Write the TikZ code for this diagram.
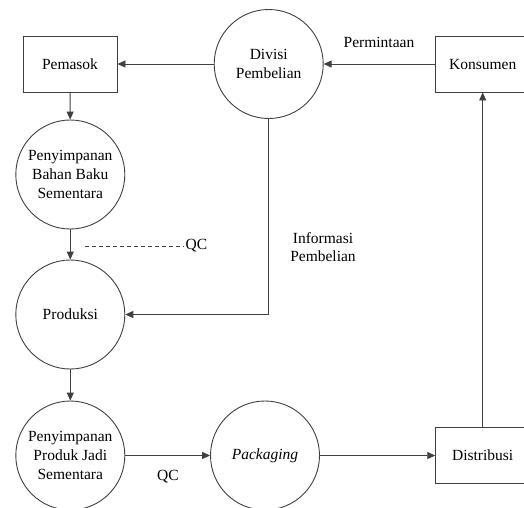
\documentclass[tikz,border=0pt]{standalone}
\usepackage{fontspec}
\setmainfont{Liberation Serif}
\usetikzlibrary{arrows.meta}
\begin{document}
\begin{tikzpicture}[x=1pt,y=-1pt,
  every node/.style={font=\fontsize{15.5}{18.7}\selectfont, align=center},
  proc/.style={draw=black!75, line width=0.9pt, circle, minimum size=109pt, inner sep=0pt},
  ent/.style={draw=black!75, line width=0.9pt, rectangle, minimum width=94pt, minimum height=56pt, inner sep=0pt},
  flow/.style={draw=black!75, line width=0.9pt, -{Triangle[length=8pt,width=7pt]}},
  lbl/.style={inner sep=0pt}]
\clip (0,0) rectangle (524,507);
\fill[white] (0,0) rectangle (524,507);
\node[ent] (pemasok) at (70,64) {Pemasok};
\node[proc] (divisi) at (268.7,64) {Divisi\\Pembelian};
\node[ent] (konsumen) at (482.7,64) {Konsumen};
\node[proc] (bahan) at (70.3,174.5) {Penyimpanan\\Bahan Baku\\Sementara};
\node[proc] (produksi) at (70.3,314.5) {Produksi};
\node[proc] (produk) at (70.3,455.5) {Penyimpanan\\Produk Jadi\\Sementara};
\node[proc] (packaging) at (265,455.5) {\textit{Packaging}};
\node[ent] (distribusi) at (482.7,455.5) {Distribusi};
\node[lbl] (perm) at (379,42) {Permintaan};
\node[lbl] (info) at (323,247) {Informasi\\Pembelian};
\node[lbl] (qctop) at (196.5,246) {QC};
\node[lbl] (qcbot) at (168,477) {QC};
\coordinate (qcs) at (85,246);
\draw[flow] (divisi) -- (pemasok);
\draw[flow] (konsumen) -- (divisi);
\draw[flow] (pemasok) -- (bahan);
\draw[flow] (bahan) -- (produksi);
\draw[flow] (divisi.south) |- (produksi.east);
\draw[flow] (produksi) -- (produk);
\draw[flow] (produk) -- (packaging);
\draw[flow] (packaging) -- (distribusi);
\draw[flow] (distribusi) -- (konsumen);
\draw[black!75, line width=0.9pt, dash pattern=on 4pt off 3pt] (qcs) -- ([xshift=-2pt]qctop.west);
\end{tikzpicture}
\end{document}
